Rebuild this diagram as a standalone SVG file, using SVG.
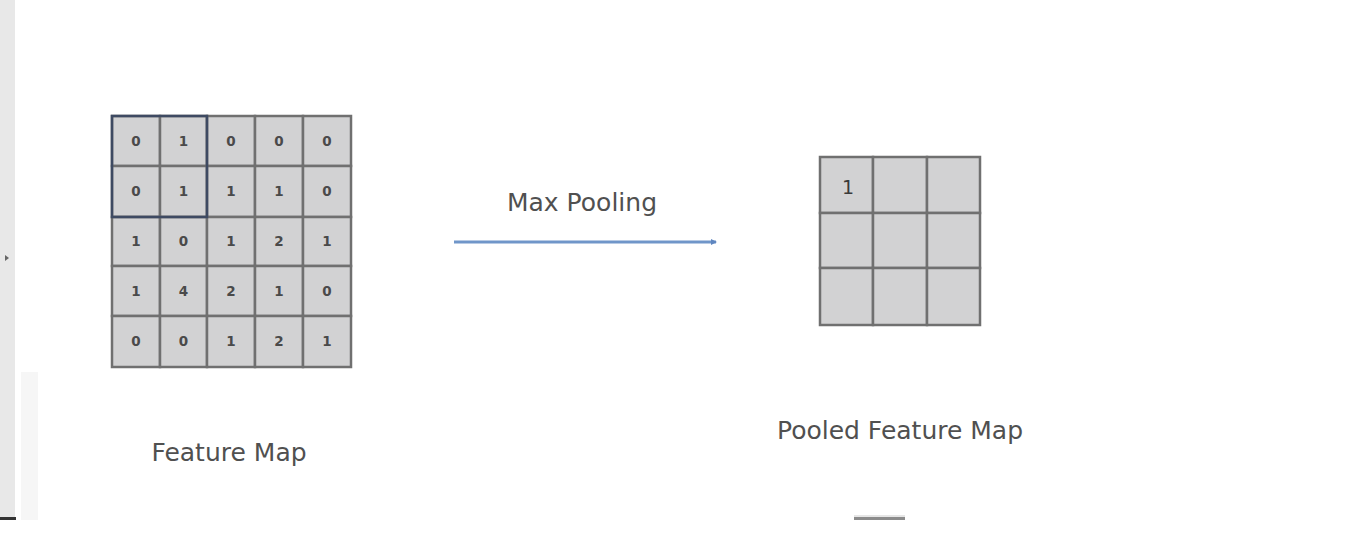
<svg xmlns="http://www.w3.org/2000/svg" width="1359" height="537" viewBox="0 0 1359 537">
<style>
.cell{fill:#d2d2d3;stroke:#707070;stroke-width:2.5}
.num{font-family:"DejaVu Sans",sans-serif;font-size:13.5px;font-weight:bold;fill:#4a4a4a;text-anchor:middle}
.lbl{font-family:"DejaVu Sans",sans-serif;font-size:25px;fill:#505050;text-anchor:middle}
</style>
<defs>
<marker id="ah" markerWidth="6" markerHeight="6" refX="5" refY="3" orient="auto" markerUnits="userSpaceOnUse">
<path d="M0,0 L6,3 L0,6 Z" fill="#5f86c0"/>
</marker>
</defs>
<rect width="1359" height="537" fill="#ffffff"/>
<rect x="0" y="0" width="15" height="518" fill="#e8e8e8"/>
<path d="M5,255 L9,258 L5,261 Z" fill="#666"/>
<rect x="21" y="372" width="17" height="148" fill="#f6f6f6"/>
<rect x="0" y="517" width="16" height="3" fill="#333"/>
<rect x="854" y="515" width="51" height="2" fill="#e6e6e6"/>
<rect x="854" y="517" width="51" height="3" fill="#8c8c8c"/>

<g id="feature-map">
<rect class="cell" x="112" y="116" width="48" height="50"/>
<rect class="cell" x="160" y="116" width="47" height="50"/>
<rect class="cell" x="207" y="116" width="48" height="50"/>
<rect class="cell" x="255" y="116" width="48" height="50"/>
<rect class="cell" x="303" y="116" width="48" height="50"/>
<rect class="cell" x="112" y="166" width="48" height="51"/>
<rect class="cell" x="160" y="166" width="47" height="51"/>
<rect class="cell" x="207" y="166" width="48" height="51"/>
<rect class="cell" x="255" y="166" width="48" height="51"/>
<rect class="cell" x="303" y="166" width="48" height="51"/>
<rect class="cell" x="112" y="217" width="48" height="49"/>
<rect class="cell" x="160" y="217" width="47" height="49"/>
<rect class="cell" x="207" y="217" width="48" height="49"/>
<rect class="cell" x="255" y="217" width="48" height="49"/>
<rect class="cell" x="303" y="217" width="48" height="49"/>
<rect class="cell" x="112" y="266" width="48" height="50"/>
<rect class="cell" x="160" y="266" width="47" height="50"/>
<rect class="cell" x="207" y="266" width="48" height="50"/>
<rect class="cell" x="255" y="266" width="48" height="50"/>
<rect class="cell" x="303" y="266" width="48" height="50"/>
<rect class="cell" x="112" y="316" width="48" height="51"/>
<rect class="cell" x="160" y="316" width="47" height="51"/>
<rect class="cell" x="207" y="316" width="48" height="51"/>
<rect class="cell" x="255" y="316" width="48" height="51"/>
<rect class="cell" x="303" y="316" width="48" height="51"/>
<rect x="112" y="116" width="95" height="101" fill="none" stroke="#3e4a62" stroke-width="2.5"/>
<text class="num" x="136" y="146">0</text><text class="num" x="183.5" y="146">1</text><text class="num" x="231" y="146">0</text><text class="num" x="279" y="146">0</text><text class="num" x="327" y="146">0</text>
<text class="num" x="136" y="196">0</text><text class="num" x="183.5" y="196">1</text><text class="num" x="231" y="196">1</text><text class="num" x="279" y="196">1</text><text class="num" x="327" y="196">0</text>
<text class="num" x="136" y="246">1</text><text class="num" x="183.5" y="246">0</text><text class="num" x="231" y="246">1</text><text class="num" x="279" y="246">2</text><text class="num" x="327" y="246">1</text>
<text class="num" x="136" y="296">1</text><text class="num" x="183.5" y="296">4</text><text class="num" x="231" y="296">2</text><text class="num" x="279" y="296">1</text><text class="num" x="327" y="296">0</text>
<text class="num" x="136" y="346">0</text><text class="num" x="183.5" y="346">0</text><text class="num" x="231" y="346">1</text><text class="num" x="279" y="346">2</text><text class="num" x="327" y="346">1</text>
</g>
<g id="feature-map-label"><text class="lbl" x="229" y="461">Feature Map</text></g>

<g id="pooled-map">
<rect class="cell" x="820" y="157" width="53" height="56"/>
<rect class="cell" x="873" y="157" width="54" height="56"/>
<rect class="cell" x="927" y="157" width="53" height="56"/>
<rect class="cell" x="820" y="213" width="53" height="55"/>
<rect class="cell" x="873" y="213" width="54" height="55"/>
<rect class="cell" x="927" y="213" width="53" height="55"/>
<rect class="cell" x="820" y="268" width="53" height="57"/>
<rect class="cell" x="873" y="268" width="54" height="57"/>
<rect class="cell" x="927" y="268" width="53" height="57"/>
<text x="848" y="194" font-family="DejaVu Sans, sans-serif" font-size="19" fill="#3a3a3a" text-anchor="middle">1</text>
</g>
<g id="pooled-map-label"><text class="lbl" x="900" y="439">Pooled Feature Map</text></g>

<g id="connectors">
<line x1="454" y1="242" x2="716" y2="242" stroke="#7096c9" stroke-width="3" marker-end="url(#ah)"/>
<text class="lbl" x="582" y="211">Max Pooling</text>
</g>
</svg>
